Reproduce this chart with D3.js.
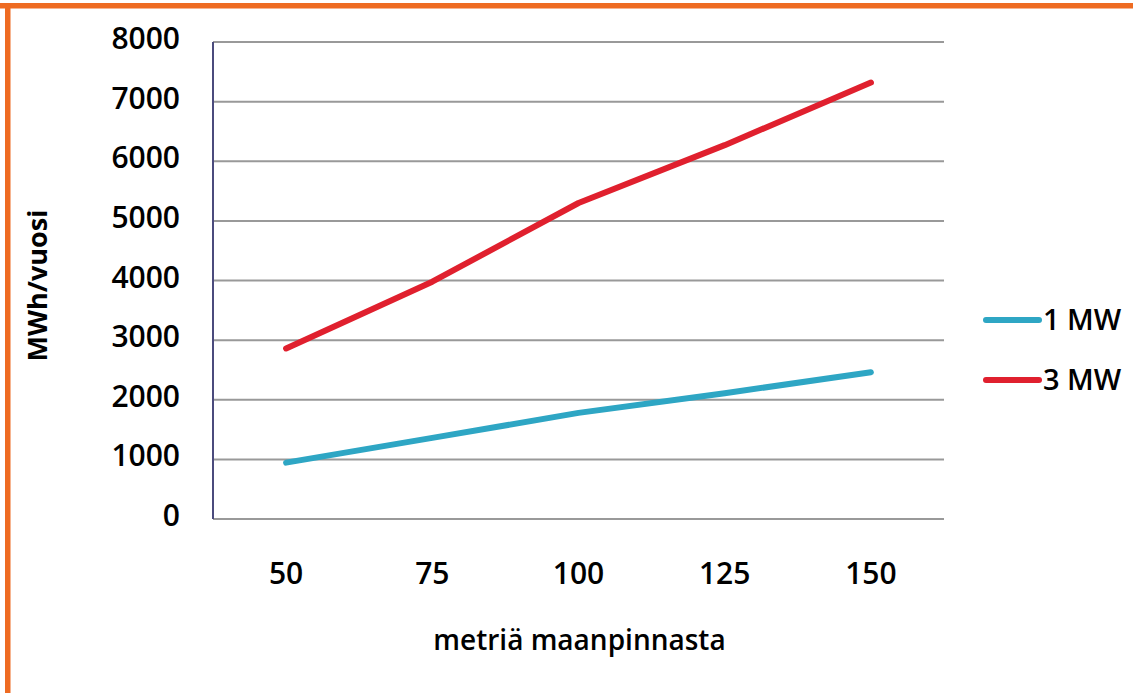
<!DOCTYPE html>
<html><head><meta charset="utf-8">
<script src="https://cdn.jsdelivr.net/npm/d3@7"></script>
<style>body{margin:0;background:#fff;} svg{display:block;} text{font-family:"Open Sans",sans-serif;fill:#000;}</style>
</head><body>
<svg id="c" width="1133" height="693"></svg>
<script>
const categories = [50, 75, 100, 125, 150];
const seriesNames = ["1 MW", "3 MW"];
const values1MW = [945, 1360, 1780, 2110, 2460];
const values3MW = [2860, 3980, 5300, 6270, 7320];
const yTicks = [0, 1000, 2000, 3000, 4000, 5000, 6000, 7000, 8000];
const colors = ["#2ea6c4", "#e0202e"];
const yTitle = "MWh/vuosi";
const xTitle = "metriä maanpinnasta";

const FONT = "Open Sans";
const svg = d3.select("#c");
svg.append("rect").attr("x",0).attr("y",3).attr("width",1133).attr("height",5.5).attr("fill","#ee6b22");
svg.append("rect").attr("x",5).attr("y",3).attr("width",5.5).attr("height",690).attr("fill","#ee6b22");

const L=213, R=944, T=42, B=519;
const x = d3.scaleBand().domain(categories).range([L,R]);
const y = d3.scaleLinear().domain([0,8000]).range([B,T]);

const g = svg.append("g");
g.selectAll("line.grid").data(yTicks).join("line")
  .attr("x1",L).attr("x2",R).attr("y1",d=>y(d)).attr("y2",d=>y(d))
  .attr("stroke","#999").attr("stroke-width",2);
g.append("line").attr("x1",L).attr("x2",L).attr("y1",T).attr("y2",B).attr("stroke","#4b4b7d").attr("stroke-width",2);

const yAxis = d3.axisLeft(y).tickValues(yTicks).tickSize(0).tickPadding(33).tickFormat(d3.format("d"));
const ya = svg.append("g").attr("transform",`translate(${L},0)`).call(yAxis);
ya.select(".domain").remove();
ya.selectAll("text").attr("font-size",30).attr("font-weight",600).attr("font-family",FONT).attr("dy","0.22em");

const xAxis = d3.axisBottom(x).tickSize(0).tickPadding(44);
const xa = svg.append("g").attr("transform",`translate(0,${B})`).call(xAxis);
xa.select(".domain").remove();
xa.selectAll("text").attr("font-size",30).attr("font-weight",600).attr("font-family",FONT);

const line = d3.line().x((d,i)=>x(categories[i])+x.bandwidth()/2).y(d=>y(d));
[values1MW, values3MW].forEach((vals,i)=>{
  svg.append("path").attr("d",line(vals)).attr("fill","none")
    .attr("stroke",colors[i]).attr("stroke-width",6).attr("stroke-linecap","round").attr("stroke-linejoin","round");
});

seriesNames.forEach((n,i)=>{
  const ly = 320 + i*60;
  svg.append("line").attr("x1",986).attr("x2",1039).attr("y1",ly).attr("y2",ly)
    .attr("stroke",colors[i]).attr("stroke-width",6).attr("stroke-linecap","round");
  svg.append("text").attr("x",1043).attr("y",ly).attr("dy","0.34em").attr("font-size",29)
    .attr("font-weight",600).text(n);
});

svg.append("text").attr("transform",`translate(47,${(T+B)/2+5}) rotate(-90)`).attr("text-anchor","middle")
  .attr("font-size",27).attr("font-weight",700).text(yTitle);
svg.append("text").attr("x",(L+R)/2+1).attr("y",650).attr("text-anchor","middle").attr("font-size",28)
  .attr("font-weight",600).text(xTitle);
</script>
</body></html>
